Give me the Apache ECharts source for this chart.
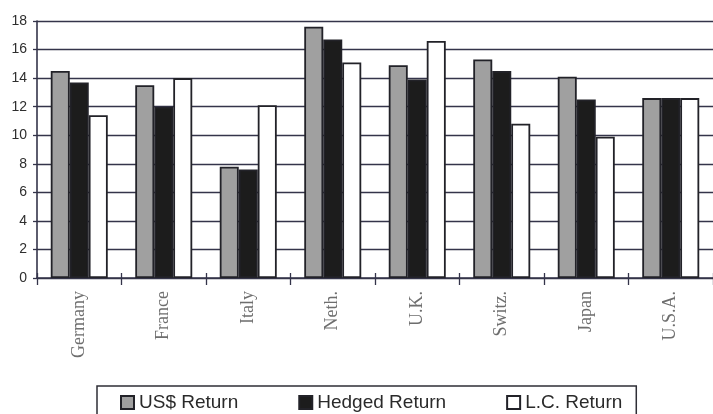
<!DOCTYPE html>
<html>
<head>
<meta charset="utf-8">
<style>
  html, body { margin: 0; padding: 0; background: #fff; }
  #chart { width: 713px; height: 414px; }
</style>
<script src="https://cdn.jsdelivr.net/npm/echarts@6/dist/echarts.min.js"></script>
</head>
<body>
<div id="chart"></div>
<script>
// Annual returns by market (%)
const categories = ['Germany', 'France', 'Italy', 'Neth.', 'U.K.', 'Switz.', 'Japan', 'U.S.A.'];
const usdReturn = [14.5, 13.5, 7.8, 17.6, 14.9, 15.3, 14.1, 12.6];
const hedgedReturn = [13.7, 12.0, 7.6, 16.7, 13.9, 14.5, 12.5, 12.6];
const lcReturn = [11.4, 14.0, 12.1, 15.1, 16.6, 10.8, 9.9, 12.6];
const seriesNames = ['US$ Return', 'Hedged Return', 'L.C. Return'];
const yTicks = { min: 0, max: 18, interval: 2 };

const lineColor = '#34344a';
const edge = '#222228';

function barSeries(name, data, fill) {
  return {
    name: name,
    type: 'bar',
    data: data,
    barWidth: 19,
    barGap: '0%',
    itemStyle: { color: fill, borderColor: edge, borderWidth: 1.8 },
    emphasis: { disabled: true }
  };
}

const chart = echarts.init(document.getElementById('chart'), null, { renderer: 'canvas' });
chart.setOption({
  animation: false,
  backgroundColor: '#ffffff',
  grid: { left: 37, right: -2, top: 21, bottom: 136, containLabel: false },
  legend: {
    data: seriesNames,
    icon: 'rect',
    left: 97,
    top: 386,
    padding: [7, 14, 9, 23],
    borderColor: '#2e2e36',
    borderWidth: 1.5,
    itemWidth: 13,
    itemHeight: 13,
    itemGap: 60,
    textStyle: { fontFamily: 'Liberation Sans, Arial, sans-serif', fontSize: 19, color: '#2a2a2a' }
  },
  xAxis: [
    {
      type: 'category',
      data: categories,
      position: 'bottom',
      axisLine: { lineStyle: { color: lineColor, width: 1.6 } },
      axisTick: { show: true, length: 7, lineStyle: { color: lineColor, width: 1.3 } },
      axisLabel: {
        rotate: 90,
        margin: 13,
        fontFamily: 'Liberation Serif, Times New Roman, serif',
        fontSize: 18,
        color: '#6e6e6e'
      },
      splitLine: { show: false }
    },
    {
      type: 'category',
      data: categories,
      position: 'bottom',
      axisLine: { show: false },
      axisTick: { show: true, inside: true, length: 5, lineStyle: { color: lineColor, width: 1.3 } },
      axisLabel: { show: false },
      splitLine: { show: false }
    }
  ],
  yAxis: {
    type: 'value',
    min: yTicks.min,
    max: yTicks.max,
    interval: yTicks.interval,
    axisLine: { show: true, lineStyle: { color: lineColor, width: 1.6 } },
    axisTick: { show: true, length: 4, lineStyle: { color: lineColor, width: 1.3 } },
    axisLabel: {
      margin: 10,
      fontFamily: 'Liberation Sans, Arial, sans-serif',
      fontSize: 14,
      color: '#2e2e2e'
    },
    splitLine: { show: true, lineStyle: { color: lineColor, width: 1.4 } }
  },
  series: [
    barSeries(seriesNames[0], usdReturn, '#a0a0a0'),
    barSeries(seriesNames[1], hedgedReturn, '#1c1c1c'),
    barSeries(seriesNames[2], lcReturn, '#ffffff')
  ]
});
</script>
</body>
</html>
